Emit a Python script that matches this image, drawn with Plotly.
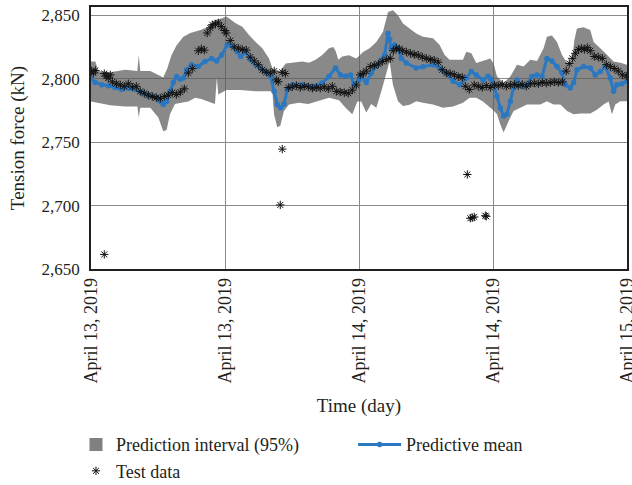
import plotly.graph_objects as go

# ---------------- data (time in hours from April 13, 2019 00:00) ----------------
tick_hours = [0, 12, 24, 36, 48]
tick_labels = ["April 13, 2019", "April 13, 2019", "April 14, 2019", "April 14, 2019", "April 15, 2019"]
y_ticks = [2650, 2700, 2750, 2800, 2850]

upper_h = [0.0, 0.39, 0.65, 1.73, 3.07, 4.15, 4.28, 4.41, 5.31, 6.03, 6.47, 6.83, 7.19, 7.64, 8.27, 8.9,
           9.88, 10.5, 11.04, 11.67, 12.12, 12.38, 12.95, 13.55, 14.15, 14.74, 15.34, 15.94, 16.24, 16.53,
           16.98, 17.43, 18.03, 18.92, 19.52, 20.11, 20.71, 21.31, 21.7, 21.9, 22.15, 22.5, 23.1, 23.76,
           24.36, 24.95, 25.55, 26.15, 26.6, 27.04, 27.49, 27.94, 28.53, 29.13, 29.73, 30.63, 31.22, 31.67,
           32.11, 32.71, 33.31, 33.61, 34.06, 34.5, 35.1, 35.55, 35.76, 36.05, 36.36, 36.95, 37.55, 38.15,
           38.74, 39.34, 39.94, 40.53, 40.83, 41.28, 41.73, 42.18, 42.63, 43.07, 43.28, 43.52, 44.11, 44.71,
           45.01, 45.61, 46.2, 46.8, 47.4, 48.0]
upper_v = [2813.5, 2813.5, 2806, 2805, 2807, 2806, 2818.6, 2806, 2806, 2803, 2801, 2808, 2818, 2826, 2833, 2836,
           2838.5, 2841, 2846, 2847.5, 2849, 2847.4, 2843.7, 2841, 2834.4, 2829, 2824, 2816, 2808.4, 2805.7,
           2806.5, 2812, 2812.5, 2813.5, 2812.5, 2815, 2818.7, 2824, 2825, 2822, 2815, 2817.5, 2818.5, 2816,
           2821, 2824, 2829, 2837, 2852.6, 2854, 2850, 2843.5, 2839.6, 2835.7, 2833, 2831.8, 2826.6, 2818.7,
           2815, 2815, 2815, 2821.3, 2820, 2812.3, 2814, 2815, 2816, 2812, 2801.8, 2796.6, 2801.8, 2811,
           2809.6, 2815, 2814, 2824, 2833, 2834, 2829, 2818.7, 2812.3, 2813.5, 2830, 2839.6, 2840.5, 2838.3,
           2829, 2824, 2818.7, 2813.5, 2812.5, 2811]

lower_h = [0.0, 1.73, 3.07, 4.15, 4.28, 4.41, 5.31, 6.03, 6.47, 6.77, 7.07, 7.52, 8.09, 8.71, 9.34, 9.88,
           10.5, 11.1, 11.27, 11.4, 12.12, 13.37, 14.71, 16.24, 16.39, 16.68, 16.95, 17.28, 17.73, 18.63,
           19.46, 20.42, 21.31, 22.21, 22.8, 23.4, 23.85, 24.2, 24.65, 25.1, 25.55, 26.0, 26.44, 26.74,
           27.04, 27.49, 27.94, 28.53, 29.13, 29.73, 30.63, 31.52, 32.42, 33.31, 33.9, 34.5, 35.1, 35.67,
           36.05, 36.36, 36.65, 36.95, 37.4, 37.84, 38.44, 39.04, 40.24, 40.83, 41.43, 42.03, 42.63, 43.22,
           43.82, 44.71, 45.31, 45.9, 46.35, 46.65, 46.95, 47.4, 48.0]
lower_v = [2782, 2779, 2778, 2778, 2769.5, 2777, 2777, 2769.5, 2758.6, 2759.5, 2772, 2780, 2781, 2782, 2785, 2784,
           2782, 2780, 2801, 2787.5, 2791, 2791, 2790, 2790, 2772, 2761.7, 2763, 2774.5, 2779.7, 2781,
           2780, 2782.3, 2785, 2783, 2777, 2771.9, 2782, 2782, 2773.4, 2780, 2777, 2790, 2803, 2813.5,
           2795.3, 2782.3, 2778.4, 2779.5, 2782.3, 2781, 2779.7, 2777, 2778, 2781, 2785, 2785, 2782, 2778,
           2775, 2772, 2764, 2757.6, 2766.7, 2774.5, 2777, 2779.7, 2779.7, 2782.3, 2779.7, 2779.7, 2774.5, 2771.9,
           2772.5, 2772.5, 2775.5, 2779.7, 2782, 2771.9, 2779.7, 2782.3, 2782.3]

mean_h = [0.0, 0.36, 0.95, 1.55, 2.15, 2.74, 3.34, 3.94, 4.53, 5.13, 5.73, 6.18, 6.47, 6.77, 7.07, 7.37,
          7.67, 7.97, 8.27, 8.56, 9.01, 9.61, 10.21, 10.8, 11.25, 11.7, 12.2, 12.65, 13.1, 13.4, 13.84,
          14.29, 14.74, 15.19, 15.64, 16.08, 16.39, 16.68, 16.98, 17.28, 17.58, 18.03, 18.92, 19.82, 20.71,
          21.31, 21.9, 22.35, 22.8, 23.25, 23.55, 24.0, 24.2, 24.65, 25.1, 25.55, 26.0, 26.29, 26.6, 26.74,
          26.89, 27.19, 27.49, 27.79, 28.24, 29.13, 29.73, 30.63, 31.22, 31.82, 32.42, 33.01, 33.61, 34.06,
          34.5, 35.1, 35.55, 35.76, 36.05, 36.35, 36.65, 36.94, 37.24, 37.55, 37.84, 38.15, 38.6, 39.04,
          39.49, 39.94, 40.39, 40.83, 41.28, 41.73, 42.18, 42.47, 42.92, 43.22, 43.52, 44.11, 44.71, 45.16,
          45.61, 46.06, 46.5, 46.8, 47.1, 47.55, 48.0]
mean_v = [2800.3, 2797, 2795.3, 2794.5, 2793, 2791.4, 2792.5, 2791.5, 2789, 2787, 2785.4, 2782.3, 2779.7, 2782,
          2790, 2797, 2801.8, 2799.5, 2800.5, 2807, 2811, 2809.6, 2813.5, 2816, 2814, 2818.7, 2826.6, 2825.5,
          2821.3, 2817.4, 2821, 2815, 2811, 2808.4, 2805.7, 2801.8, 2790, 2779.7, 2777, 2780, 2791.4, 2795.3,
          2795.3, 2794, 2796.6, 2801.8, 2808.4, 2803, 2802, 2803, 2795.3, 2799, 2801.8, 2797, 2804.4, 2809.6,
          2815, 2818.7, 2835.7, 2831, 2824, 2826.6, 2824, 2816, 2812.3, 2808.4, 2809.5, 2811, 2808.4, 2804.4,
          2797.9, 2795.3, 2800.5, 2805.7, 2803, 2799, 2802, 2800, 2795.3, 2786.2, 2777, 2770.6, 2772, 2782.3,
          2792.7, 2799, 2794, 2795.5, 2801.8, 2803, 2801.8, 2816, 2814, 2809.6, 2804.4, 2795.3, 2792.7, 2797,
          2807, 2809.6, 2808.5, 2803, 2805.7, 2809.6, 2800.5, 2790, 2795.3, 2796, 2797.9]

test_h = [0.03, 0.21, 0.39, 1.19, 1.37, 1.55, 1.73, 1.91, 2.27, 2.62, 2.98, 3.34, 3.70, 4.06, 4.41, 4.77,
          5.13, 5.49, 5.85, 6.21, 6.56, 6.92, 7.28, 7.64, 8.00, 8.36, 8.72, 9.07, 9.61, 9.88, 10.15, 10.41,
          10.68, 10.86, 11.14, 11.40, 11.67, 11.94, 12.12, 12.47, 12.83, 13.19, 13.55, 13.91, 14.26, 14.62,
          14.98, 15.34, 15.70, 16.06, 16.41, 16.59, 16.77, 17.13, 17.40, 17.67, 18.03, 18.39, 18.74, 19.10,
          19.46, 19.82, 20.18, 20.53, 20.89, 21.25, 21.61, 21.97, 22.32, 22.68, 23.04, 23.40, 23.76, 24.11,
          24.38, 24.65, 25.01, 25.37, 25.73, 26.09, 26.44, 26.80, 27.07, 27.34, 27.61, 27.88, 28.24, 28.60,
          28.95, 29.31, 29.67, 30.03, 30.39, 30.74, 31.10, 31.46, 31.82, 32.17, 32.53, 32.89, 33.25, 33.52,
          33.88, 34.32, 34.68, 35.04, 35.40, 35.76, 36.12, 36.47, 36.83, 37.19, 37.55, 37.91, 38.26, 38.62,
          38.98, 39.34, 39.70, 40.06, 40.42, 40.77, 41.13, 41.49, 41.85, 42.21, 42.56, 42.83, 43.10, 43.37,
          43.64, 43.91, 44.18, 44.44, 44.71, 45.07, 45.43, 45.79, 46.15, 46.50, 46.86, 47.22, 47.58, 47.94,
          1.19, 16.95, 17.13, 33.70, 33.97, 34.14, 34.32, 35.31, 35.40]
test_v = [2806, 2804.5, 2806.5, 2804, 2802, 2800.5, 2803, 2797.5, 2796, 2795, 2794, 2796, 2793.5, 2794, 2790, 2788.5,
          2787, 2786, 2785, 2784.5, 2786, 2787, 2789, 2787.5, 2789.5, 2792, 2804.5, 2808, 2822, 2823.5, 2822.5, 2836,
          2840, 2842.5, 2843, 2844, 2841, 2838, 2836, 2830, 2825, 2824, 2823, 2822.5, 2817, 2814,
          2811, 2807, 2805, 2804.5, 2806, 2799, 2797.6, 2805, 2804, 2793, 2793.5, 2794.5, 2793, 2794,
          2793.5, 2792.5, 2793, 2792.5, 2793.5, 2792, 2794, 2790, 2789.5, 2789, 2788.5, 2791, 2795, 2803,
          2804, 2806, 2809.5, 2810.5, 2811.5, 2813.5, 2815, 2816, 2822, 2824, 2823.5, 2822, 2821, 2820,
          2819, 2818.5, 2817, 2816, 2815, 2814.5, 2813, 2807, 2804.5, 2804, 2803, 2801.5, 2801, 2794,
          2791.5, 2795, 2794, 2793, 2794.5, 2793, 2795, 2794.5, 2795.5, 2794, 2795, 2795.5, 2794.5, 2795.5,
          2794, 2796, 2796.5, 2796, 2797, 2796.5, 2797, 2797.5, 2797, 2797.5, 2806, 2812, 2816, 2820,
          2823, 2824, 2823, 2824.5, 2822, 2817.5, 2817, 2816, 2811, 2809.5, 2808, 2806, 2803, 2802,
          2661.5, 2700.5, 2744.5, 2724.5, 2690, 2690.5, 2691, 2692, 2691.5]

# ---------------- style ----------------
FONT = "Liberation Serif"
TXT = "#231f20"
BAND = "rgba(92,92,92,0.72)"
BLUE = "#2a78c2"

fig = go.Figure()

fig.add_trace(go.Scatter(
    x=upper_h + lower_h[::-1], y=upper_v + lower_v[::-1],
    mode="lines", fill="toself", fillcolor=BAND, line=dict(width=0, color=BAND),
    showlegend=False, hoverinfo="skip"))

fig.add_trace(go.Scatter(
    x=mean_h, y=mean_v, mode="lines+markers", name="Predictive mean",
    line=dict(color=BLUE, width=3), marker=dict(color=BLUE, size=5.5, symbol="circle"),
    legend="legend2"))

fig.add_trace(go.Scatter(
    x=[None], y=[None], mode="markers", name="Prediction interval (95%)",
    marker=dict(symbol="square", size=13, color="rgb(128,128,128)"), legend="legend"))

fig.add_trace(go.Scatter(
    x=test_h, y=test_v, mode="markers", name="Test data",
    marker=dict(symbol="asterisk-open", size=7, color="#111111",
                line=dict(color="#111111", width=1)),
    legend="legend"))

fig.update_layout(
    width=632, height=485,
    margin=dict(l=91, r=5, t=7, b=216, autoexpand=False),
    paper_bgcolor="white", plot_bgcolor="white",
    font=dict(family=FONT, size=18, color=TXT),
    legend=dict(orientation="v", x=-0.028, xanchor="left", y=-0.60, yanchor="top",
                font=dict(family=FONT, size=18, color=TXT), bgcolor="rgba(0,0,0,0)",
                tracegroupgap=0, itemwidth=30),
    legend2=dict(orientation="v", x=0.489, xanchor="left", y=-0.60, yanchor="top",
                 font=dict(family=FONT, size=18, color=TXT), bgcolor="rgba(0,0,0,0)",
                 itemwidth=43),
)

fig.update_xaxes(
    range=[0, 48], tickmode="array", tickvals=tick_hours, ticktext=tick_labels,
    tickangle=-90, ticks="", showgrid=True, gridcolor="#8a8a8a", gridwidth=1,
    showline=True, linecolor=TXT, linewidth=1.6, mirror=True, zeroline=False,
    tickfont=dict(family=FONT, size=18, color=TXT), automargin=False, ticklabeloverflow="allow",
    title=dict(text="Time (day)", font=dict(family=FONT, size=19, color=TXT), standoff=16))

fig.update_yaxes(
    range=[2650, 2856.5], tickmode="array", tickvals=y_ticks, tickformat=",",
    ticks="", showgrid=True, gridcolor="#8a8a8a", gridwidth=1,
    showline=True, linecolor=TXT, linewidth=1.6, mirror=True, zeroline=False,
    tickfont=dict(family=FONT, size=17, color=TXT), automargin=False, ticklabelstandoff=6,
    title=dict(text="Tension force (kN)", font=dict(family=FONT, size=19, color=TXT), standoff=12))

fig.write_html("out.html", config={"displayModeBar": False},
               post_script="document.body.style.margin='0px';document.body.style.padding='0px';")
